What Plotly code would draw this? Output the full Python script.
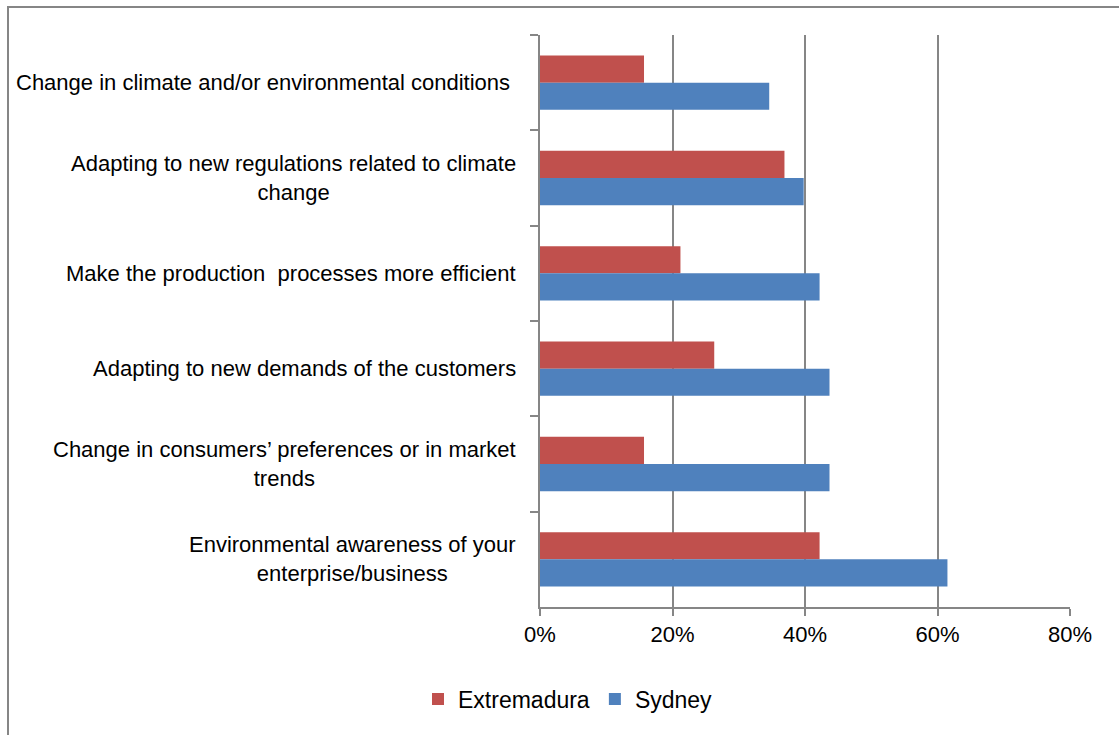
import plotly.graph_objects as go

categories = [
    "Change in climate and/or environmental conditions ",
    "Adapting to new regulations related to climate<br>change",
    "Make the production  processes more efficient",
    "Adapting to new demands of the customers",
    "Change in consumers\u2019 preferences or in market<br>trends",
    "Environmental awareness of your<br>enterprise/business",
]
extremadura = [0.157, 0.369, 0.212, 0.263, 0.157, 0.422]
sydney = [0.346, 0.398, 0.422, 0.437, 0.437, 0.615]
x_ticks = [0, 0.2, 0.4, 0.6, 0.8]
x_tick_labels = ["0%", "20%", "40%", "60%", "80%"]

RED = "#C0504D"
BLUE = "#4F81BD"
GRID = "#868686"
FONT = "Liberation Sans"

fig = go.Figure()
fig.add_trace(go.Bar(y=categories, x=extremadura, name="Extremadura", orientation="h",
                     marker=dict(color=RED, line=dict(width=0))))
fig.add_trace(go.Bar(y=categories, x=sydney, name="Sydney", orientation="h",
                     marker=dict(color=BLUE, line=dict(width=0))))

W, H = 1119, 735
L, T = 540, 35
R = W - 1070
B = H - 607

pw = W - L - R
ph = H - T - B
def px_x(p):
    return (p - L) / pw
def px_y(p):
    return (H - B - p) / ph

annotations = []
for c in categories:
    annotations.append(dict(x=px_x(518), xref="paper", y=c, yref="y", text=c,
                            showarrow=False, xanchor="right", yanchor="middle",
                            align="center", font=dict(family=FONT, size=22, color="#000000")))

fig.update_layout(
    width=W, height=H,
    margin=dict(l=L, r=R, t=T, b=B, pad=0),
    paper_bgcolor="white", plot_bgcolor="white",
    barmode="group", bargap=0.43, bargroupgap=0,
    font=dict(family=FONT, size=22, color="#000000"),
    showlegend=True,
    legend=dict(orientation="h", x=px_x(568), xanchor="center",
                y=px_y(699), yanchor="middle", font=dict(family=FONT, size=23),
                itemwidth=30, tracegroupgap=0, traceorder="normal"),
    xaxis=dict(range=[0, 0.8], tickvals=x_ticks, ticktext=x_tick_labels,
               showgrid=True, gridcolor=GRID, gridwidth=2,
               showline=True, linecolor=GRID, linewidth=2,
               ticks="outside", ticklen=7, tickwidth=2, tickcolor=GRID,
               tickfont=dict(family=FONT, size=22), zeroline=False, fixedrange=True),
    yaxis=dict(autorange="reversed", showticklabels=False, showgrid=False,
               showline=True, linecolor=GRID, linewidth=2,
               ticks="outside", ticklen=8, tickwidth=2, tickcolor=GRID,
               tickson="boundaries", fixedrange=True),
    annotations=annotations,
    shapes=[dict(type="rect", xref="paper", yref="paper",
                 x0=px_x(8), x1=px_x(1140), y0=px_y(760), y1=px_y(7),
                 line=dict(color=GRID, width=2), fillcolor="rgba(0,0,0,0)", layer="below")],
)

fig.write_html("out.html", config={"displayModeBar": False},
               post_script="document.body.style.margin='0';")
